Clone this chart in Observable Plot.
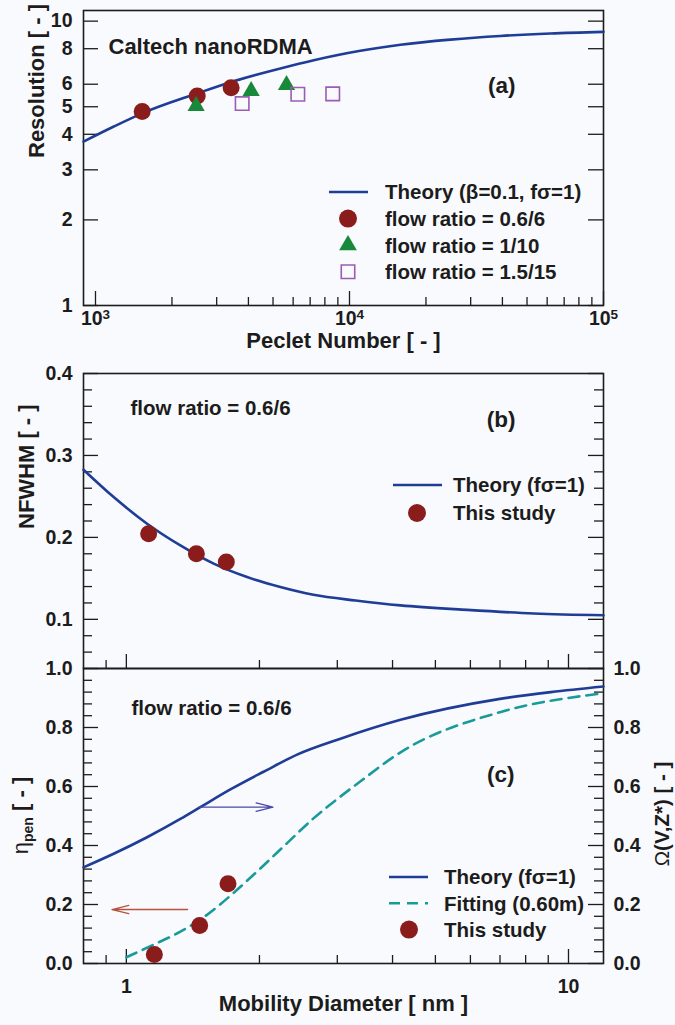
<!DOCTYPE html>
<html>
<head>
<meta charset="utf-8">
<script src="https://cdn.jsdelivr.net/npm/d3@7"></script>
<script src="https://cdn.jsdelivr.net/npm/@observablehq/plot@0.6"></script>
<style>
  html, body { margin: 0; padding: 0; background: #f9fafd; }
  #wrap { position: relative; width: 675px; height: 1025px; background: #f9fafd; overflow: hidden; }
  #wrap svg { position: absolute; left: 0; }
</style>
</head>
<body>
<div id="wrap"></div>
<script>
// ---------------- data ----------------
// Panel (a): Resolution vs Peclet number
const peTheory  = [897, 1181, 1527, 2515, 3400, 5345, 7235, 11040, 15880, 24970, 39270, 61800, 100000];
const resTheory = [3.77, 4.26, 4.74, 5.57, 6.10, 6.82, 7.29, 7.87, 8.26, 8.61, 8.87, 9.05, 9.17];
const peRatio06  = [1527, 2515, 3420];
const resRatio06 = [4.81, 5.45, 5.83];
const peRatio110  = [2490, 4100, 5650];
const resRatio110 = [5.03, 5.68, 5.96];
const peRatio15  = [3780, 6260, 8590];
const resRatio15 = [5.13, 5.53, 5.55];
const resTicks = [1, 2, 3, 4, 5, 6, 8, 10];
const peMajor = [1e3, 1e4, 1e5];
const peMinor = [2e3, 3e3, 4e3, 5e3, 6e3, 7e3, 8e3, 9e3, 2e4, 3e4, 4e4, 5e4, 6e4, 7e4, 8e4, 9e4];

// Panel (b): NFWHM vs mobility diameter
const dNf  = [0.8, 0.936, 1.114, 1.325, 1.576, 1.875, 2.23, 2.65, 3.3, 4.17, 5.9, 8.35, 12];
const nfTheory = [0.2826, 0.2492, 0.2167, 0.1902, 0.168, 0.1516, 0.1394, 0.130, 0.123, 0.117, 0.1115, 0.1072, 0.105];
const dNfStudy = [1.123, 1.440, 1.683];
const nfStudy  = [0.2045, 0.180, 0.170];
const nfMajor = [0.1, 0.2, 0.3, 0.4];
const nfMinor = [0.06, 0.08, 0.12, 0.14, 0.16, 0.18, 0.22, 0.24, 0.26, 0.28, 0.32, 0.34, 0.36, 0.38];

// Panel (c): penetration / transfer function vs mobility diameter
const dOmega = [0.8, 0.936, 1.114, 1.325, 1.47, 1.719, 2.044, 2.433, 3.05, 4.17, 7.0, 9.12, 12];
const omegaTheory = [0.326, 0.372, 0.428, 0.490, 0.530, 0.590, 0.650, 0.708, 0.762, 0.826, 0.897, 0.920, 0.939];
const dFit = [1.0, 1.153, 1.325, 1.522, 1.75, 2.009, 2.31, 2.65, 3.05, 3.38, 4.17, 7.0, 12];
const etaFit = [0.021, 0.064, 0.108, 0.165, 0.240, 0.322, 0.408, 0.492, 0.566, 0.617, 0.716, 0.852, 0.916];
const dEtaStudy = [1.157, 1.465, 1.698];
const etaStudy  = [0.0305, 0.129, 0.270];
const etaMajor = [0, 0.2, 0.4, 0.6, 0.8, 1.0];
const etaMinor = [0.04, 0.08, 0.12, 0.16, 0.24, 0.28, 0.32, 0.36, 0.44, 0.48, 0.52, 0.56, 0.64, 0.68, 0.72, 0.76, 0.84, 0.88, 0.92, 0.96];
const dMajor = [1, 10];
const dMinor = [0.9, 2, 3, 4, 5, 6, 7, 8, 9];
// arrows in panel (c): which axis each curve belongs to
const arrowX1 = [1.458, 1.376];
const arrowX2 = [2.146, 0.928];
const arrowY  = [0.530, 0.183];

// legends
const legendA = [
  {label: "Theory (\u03B2=0.1, f\u03C3=1)", kind: "line"},
  {label: "flow ratio = 0.6/6", kind: "circle"},
  {label: "flow ratio = 1/10", kind: "triangle"},
  {label: "flow ratio = 1.5/15", kind: "square"}
];
const legendB = [
  {label: "Theory (f\u03C3=1)", kind: "line"},
  {label: "This study", kind: "circle"}
];
const legendC = [
  {label: "Theory (f\u03C3=1)", kind: "line"},
  {label: "Fitting (0.60m)", kind: "dash"},
  {label: "This study", kind: "circle"}
];

// ---------------- styles ----------------
const FONT = "'Liberation Sans', Arial, Helvetica, sans-serif";
const INK = "#1c1c1c";
const BLUE = "#1f3d97";
const RED = "#8b1c1c";
const GREEN = "#18893a";
const PURPLE = "#9a5cb4";
const TEAL = "#1a9b9b";
const ARROW_BLUE = "#4a4aa8";
const ARROW_RED = "#b5543e";
const colorOf = {line: BLUE, circle: RED, triangle: GREEN, square: PURPLE, dash: TEAL};

const pts = (xs, ys) => xs.map((x, i) => ({x, y: ys[i]}));
const FW = 520, FH = 295; // frame width / height in px

const common = {
  width: 675, marginLeft: 83, marginRight: 72,
  style: {fontFamily: FONT, fontWeight: "bold", fontSize: "19.5px", background: "transparent", color: INK, overflow: "visible"}
};

// inward ticks drawn as short rules at the frame edges
function yTicks(values, len, sides = ["left", "right"]) {
  return sides.map(side => Plot.ruleY(values, {
    y: d => d, stroke: INK, strokeWidth: 1.3,
    insetLeft: side === "right" ? FW - len : 0,
    insetRight: side === "left" ? FW - len : 0
  }));
}
function xTicks(values, len) {
  return [Plot.ruleX(values, {x: d => d, stroke: INK, strokeWidth: 1.3, insetTop: FH - len})];
}

// ---------------- panel (a) ----------------
const svgA = Plot.plot({
  ...common,
  height: 355, marginTop: 10, marginBottom: 50,
  x: {type: "log", domain: [897, 1e5]},
  y: {type: "log", domain: [1, 10.9]},
  marks: [
    Plot.axisY({ticks: resTicks, tickSize: 0, tickPadding: 11, tickFormat: d => String(d), label: null}),
    Plot.axisX({ticks: peMajor, tickSize: 0, tickPadding: 6, tickFormat: d => "10^" + Math.round(Math.log10(d)), label: null}),
    ...yTicks(resTicks, 15),
    ...xTicks(peMajor, 14),
    ...xTicks(peMinor, 8),
    Plot.frame({stroke: INK, strokeWidth: 1.6}),
    Plot.line(pts(peTheory, resTheory), {x: "x", y: "y", stroke: BLUE, strokeWidth: 2.6, curve: "monotone-x"}),
    Plot.dot(pts(peRatio06, resRatio06), {x: "x", y: "y", r: 8.5, fill: RED, symbol: "circle"}),
    Plot.dot(pts(peRatio110, resRatio110), {x: "x", y: "y", r: 6.4, fill: GREEN, symbol: "triangle"}),
    Plot.dot(pts(peRatio15, resRatio15), {x: "x", y: "y", r: 7.6, stroke: PURPLE, strokeWidth: 1.6, fill: "none", symbol: "square"}),
    Plot.text(["Resolution [ - ]"], {text: d => d, frameAnchor: "left", dx: -47, rotate: -90, fontSize: 22}),
    Plot.text(["Peclet Number [ - ]"], {text: d => d, frameAnchor: "bottom", dy: 42, fontSize: 22}),
    Plot.text(["Caltech nanoRDMA"], {text: d => d, frameAnchor: "top-left", dx: 25, dy: 28, textAnchor: "start", fontSize: 22}),
    Plot.text(["(a)"], {text: d => d, frameAnchor: "top-right", dx: -88, dy: 67, fontSize: 22.5})
  ]
});

// ---------------- panel (b) ----------------
const svgB = Plot.plot({
  ...common,
  height: 316, marginTop: 18, marginBottom: 3,
  x: {type: "log", domain: [0.8, 12], axis: null},
  y: {domain: [0.04, 0.4]},
  marks: [
    Plot.axisY({ticks: nfMajor, tickSize: 0, tickPadding: 11, tickFormat: d => d.toFixed(1), label: null}),
    ...yTicks(nfMajor, 15),
    ...yTicks(nfMinor, 9),
    ...xTicks(dMajor, 14),
    ...xTicks(dMinor, 8),
    Plot.frame({stroke: INK, strokeWidth: 1.6}),
    Plot.line(pts(dNf, nfTheory), {x: "x", y: "y", stroke: BLUE, strokeWidth: 2.6, curve: "monotone-x"}),
    Plot.dot(pts(dNfStudy, nfStudy), {x: "x", y: "y", r: 8.5, fill: RED}),
    Plot.text(["NFWHM [ - ]"], {text: d => d, frameAnchor: "left", dx: -57, dy: 8, rotate: -90, fontSize: 22}),
    Plot.text(["flow ratio = 0.6/6"], {text: d => d, frameAnchor: "top-left", dx: 47, dy: 27, textAnchor: "start", fontSize: 20.5}),
    Plot.text(["(b)"], {text: d => d, frameAnchor: "top-right", dx: -88, dy: 38, fontSize: 22.5})
  ]
});

// ---------------- panel (c) ----------------
const arrows = arrowX1.map((x1, i) => ({x1, x2: arrowX2[i], y: arrowY[i], color: i === 0 ? ARROW_BLUE : ARROW_RED}));
const svgC = Plot.plot({
  ...common,
  height: 360, marginTop: 3, marginBottom: 62,
  x: {type: "log", domain: [0.8, 12]},
  y: {domain: [0, 1]},
  marks: [
    Plot.axisY({ticks: etaMajor, tickSize: 0, tickPadding: 11, tickFormat: d => d.toFixed(1), label: null}),
    Plot.axisY({anchor: "right", ticks: etaMajor, tickSize: 0, tickPadding: 10, tickFormat: d => d.toFixed(1), label: null}),
    Plot.axisX({ticks: dMajor, tickSize: 0, tickPadding: 16, tickFormat: d => String(d), label: null}),
    ...yTicks(etaMajor, 15),
    ...yTicks(etaMinor, 9),
    ...xTicks(dMajor, 14),
    ...xTicks(dMinor, 8),
    Plot.frame({stroke: INK, strokeWidth: 1.6}),
    Plot.line(pts(dOmega, omegaTheory), {x: "x", y: "y", stroke: BLUE, strokeWidth: 2.6, curve: "monotone-x"}),
    Plot.line(pts(dFit, etaFit), {x: "x", y: "y", stroke: TEAL, strokeWidth: 2.6, strokeDasharray: "11,7", curve: "monotone-x"}),
    Plot.dot(pts(dEtaStudy, etaStudy), {x: "x", y: "y", r: 8.5, fill: RED}),
    Plot.arrow(arrows, {x1: "x1", x2: "x2", y1: "y", y2: "y", stroke: "color", strokeWidth: 1.3, headLength: 20, headAngle: 28}),
    Plot.text(["Mobility Diameter [ nm ]"], {text: d => d, frameAnchor: "bottom", dy: 47, fontSize: 22}),
    Plot.text(["flow ratio = 0.6/6"], {text: d => d, frameAnchor: "top-left", dx: 48, dy: 32, textAnchor: "start", fontSize: 20.5}),
    Plot.text(["(c)"], {text: d => d, frameAnchor: "top-right", dx: -89, dy: 98, fontSize: 22.5})
  ]
});

// ---------------- assemble ----------------
const wrap = document.getElementById("wrap");
[[svgA, 0], [svgB, 355], [svgC, 665]].forEach(([s, top]) => { s.style.top = top + "px"; wrap.appendChild(s); });

// superscript exponents for Peclet tick labels
d3.select(svgA).selectAll("text").each(function () {
  const t = this.textContent;
  if (t.startsWith("10^")) {
    const e = t.slice(3);
    this.textContent = "10";
    d3.select(this).append("tspan").attr("dy", "-0.5em").attr("font-size", "13.5px").text(e);
  }
});

// rich axis titles for panel (c)
(function () {
  const g = d3.select(svgC).append("g").attr("font-family", FONT).attr("fill", INK).attr("text-anchor", "middle");
  const eta = g.append("text").attr("transform", "translate(20,150.5) rotate(-90)")
    .attr("dy", "0.35em").attr("font-size", 22);
  eta.append("tspan").attr("font-weight", "normal").text("\u03B7");
  eta.append("tspan").attr("font-weight", "bold").attr("font-size", 14).attr("dy", 5).text("pen");
  eta.append("tspan").attr("font-weight", "bold").attr("dy", -5).text(" [ - ]");
  const om = g.append("text").attr("transform", "translate(662,149) rotate(-90)")
    .attr("dy", "0.35em").attr("font-size", 20.5);
  om.append("tspan").attr("font-weight", "normal").text("\u03A9");
  om.append("tspan").attr("font-weight", "bold").text("(V,Z*) [ - ]");
})();

// in-plot legends
function drawLegend(svg, items, o) {
  const g = d3.select(svg).append("g").attr("font-family", FONT).attr("font-weight", "bold")
    .attr("font-size", 20.5).attr("text-anchor", "start");
  items.forEach((it, i) => {
    const y = o.y + i * o.dy;
    const c = colorOf[it.kind];
    if (it.kind === "line" || it.kind === "dash") {
      g.append("line").attr("x1", o.l1).attr("x2", o.l2).attr("y1", y).attr("y2", y)
        .attr("stroke", c).attr("stroke-width", 2.6).attr("stroke-dasharray", it.kind === "dash" ? "11,7" : null);
    } else if (it.kind === "circle") {
      g.append("circle").attr("cx", o.sx).attr("cy", y).attr("r", 9).attr("fill", c);
    } else if (it.kind === "triangle") {
      g.append("path").attr("transform", `translate(${o.sx},${y})`).attr("d", d3.symbol(d3.symbolTriangle, Math.PI * 6.6 * 6.6)()).attr("fill", c);
    } else if (it.kind === "square") {
      g.append("path").attr("transform", `translate(${o.sx},${y})`).attr("d", d3.symbol(d3.symbolSquare, Math.PI * 7.6 * 7.6)())
        .attr("fill", "none").attr("stroke", c).attr("stroke-width", 1.6);
    }
    g.append("text").attr("x", o.tx).attr("y", y).attr("dy", "0.36em").attr("fill", INK).text(it.label);
  });
}
drawLegend(svgA, legendA, {y: 192, dy: 26.6, l1: 329, l2: 368, sx: 348, tx: 385});
drawLegend(svgB, legendB, {y: 130, dy: 28, l1: 393, l2: 442, sx: 417, tx: 453});
drawLegend(svgC, legendC, {y: 212, dy: 26.3, l1: 389, l2: 428, sx: 409, tx: 444});
</script>
</body>
</html>
